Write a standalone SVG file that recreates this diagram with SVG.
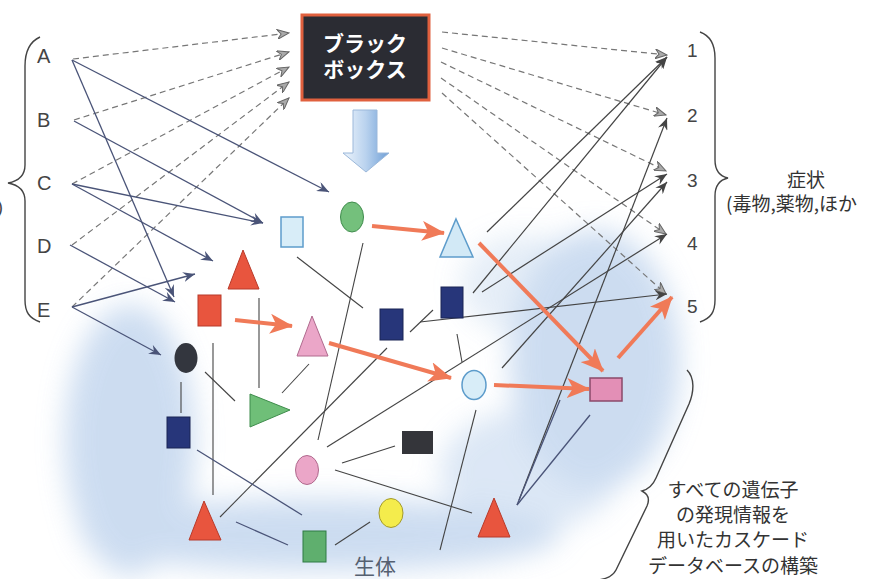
<svg xmlns="http://www.w3.org/2000/svg" width="879" height="579" viewBox="0 0 879 579">
<style>
.lbl{font-family:"Liberation Sans","Noto Sans CJK JP",sans-serif;font-size:20px;fill:#444}
.num{font-family:"Liberation Sans",sans-serif;font-size:19px;fill:#444}
.jp{font-family:"Noto Sans CJK JP",sans-serif;fill:#333}
.dash{stroke:#777;stroke-width:1.2;stroke-dasharray:6 4;fill:none;marker-end:url(#ahd)}
.sol{stroke:#444;stroke-width:1.2;fill:none;marker-end:url(#ah)}
.solb{stroke:#4a5478;stroke-width:1.3;fill:none;marker-end:url(#ahb)}
.ln{stroke:#444;stroke-width:1.1;fill:none}
.lnb{stroke:#4a5478;stroke-width:1.3;fill:none}
.red{stroke:#f07a58;stroke-width:4;fill:none;marker-end:url(#ra)}
.brace{stroke:#444;stroke-width:1.4;fill:none}
</style>
<defs>
<marker id="ah" markerUnits="userSpaceOnUse" markerWidth="13" markerHeight="10" refX="12" refY="5" orient="auto"><path d="M0,0 L12,5 L0,10 L4,5 Z" fill="#444"/></marker>
<marker id="ahb" markerUnits="userSpaceOnUse" markerWidth="13" markerHeight="10" refX="12" refY="5" orient="auto"><path d="M0,0 L12,5 L0,10 L4,5 Z" fill="#4a5478"/></marker>
<marker id="ahd" markerUnits="userSpaceOnUse" markerWidth="13" markerHeight="10" refX="12" refY="5" orient="auto"><path d="M0,0 L12,5 L0,10 L4,5 Z" fill="#aaa" stroke="#666" stroke-width="1"/></marker>
<marker id="ra" markerUnits="userSpaceOnUse" markerWidth="24" markerHeight="20" refX="22" refY="10" orient="auto"><path d="M0,0 L23,10 L0,20 L6,10 Z" fill="#f07a58"/></marker>
<filter id="blur" x="-30%" y="-30%" width="160%" height="160%"><feGaussianBlur stdDeviation="14"/></filter>
<linearGradient id="barrow" x1="0" y1="0" x2="1" y2="0"><stop offset="0" stop-color="#eef5fc"/><stop offset="0.5" stop-color="#b9d2ee"/><stop offset="1" stop-color="#6f9fd6"/></linearGradient>
</defs>

<g id="background" filter="url(#blur)" fill="#bcd1ec" opacity="0.75">
<ellipse cx="130" cy="440" rx="65" ry="135"/>
<ellipse cx="320" cy="535" rx="240" ry="36"/>
<ellipse cx="595" cy="360" rx="85" ry="130"/>
<ellipse cx="525" cy="285" rx="65" ry="50" opacity="0.5"/>
<ellipse cx="530" cy="470" rx="90" ry="60" opacity="0.7"/>
</g>

<g id="connectors">
<path class="dash" d="M73,59 L289,33"/>
<path class="dash" d="M74,120 L289,52"/>
<path class="dash" d="M72,184 L289,67"/>
<path class="dash" d="M72,245 L289,82"/>
<path class="dash" d="M72,307 L289,98"/>
<path class="dash" d="M442,32 L667,55"/>
<path class="dash" d="M442,48 L666,115"/>
<path class="dash" d="M441,62 L666,171"/>
<path class="dash" d="M441,78 L666,234"/>
<path class="dash" d="M442,93 L666,294"/>
<path class="solb" d="M72,60 L329,192"/>
<path class="solb" d="M72,60 L174,297"/>
<path class="solb" d="M74,121 L263,223"/>
<path class="solb" d="M72,184 L263,223"/>
<path class="solb" d="M72,184 L213,261"/>
<path class="solb" d="M70,245 L175,302"/>
<path class="solb" d="M72,307 L195,274"/>
<path class="solb" d="M72,307 L161,355"/>
<path class="sol" d="M487,232 L667,57"/>
<path class="sol" d="M473,293 L667,57"/>
<path class="sol" d="M519,500 L667,118"/>
<path class="sol" d="M482,292 L667,174"/>
<path class="sol" d="M502,368 L667,182"/>
<path class="sol" d="M327,447 L667,234"/>
<path class="sol" d="M420,322 L667,294"/>
<path class="ln" d="M297,257 L363,308"/>
<path class="ln" d="M363,243 L318,440"/>
<path class="ln" d="M387,348 L220,517"/>
<path class="ln" d="M410,332 L433,310"/>
<path class="ln" d="M457,334 L462,362"/>
<path class="ln" d="M476,410 L440,550"/>
<path class="ln" d="M205,372 L235,401"/>
<path class="ln" d="M181,382 L181,413"/>
<path class="ln" d="M213,343 L213,495"/>
<path class="ln" d="M259,298 L259,388"/>
<path class="ln" d="M309,364 L282,393"/>
<path class="lnb" d="M197,450 L302,515"/>
<path class="lnb" d="M236,522 L288,545"/>
<path class="ln" d="M335,545 L370,522"/>
<path class="ln" d="M342,463 L395,446"/>
<path class="ln" d="M335,470 L472,513"/>
<path class="lnb" d="M517,505 L560,400"/>
<path class="lnb" d="M517,505 L590,415"/>
<path class="red" d="M372,226 L444,233"/>
<path class="red" d="M235,320 L292,326"/>
<path class="red" d="M329,343 L451,378"/>
<path class="red" d="M494,385 L589,389"/>
<path class="red" d="M479,243 L603,371"/>
<path class="red" d="M618,358 L672,297"/>
</g>

<g id="black-box">
<rect x="302" y="15" width="127" height="85" fill="#2b2c33" stroke="#e0603e" stroke-width="3"/>
<text x="365" y="51" text-anchor="middle" class="jp" style="fill:#fff;font-size:21px;font-weight:bold">ブラック</text>
<text x="365" y="77" text-anchor="middle" class="jp" style="fill:#fff;font-size:21px;font-weight:bold">ボックス</text>
</g>
<g id="down-arrow">
<polygon points="353,110 377,110 377,153 389,153 366,172 343,153 353,153" fill="url(#barrow)" stroke="#9bb8da" stroke-width="1"/>
</g>

<g id="n-lightblue-square"><rect x="281" y="217" width="22" height="30" fill="#d8edf8" stroke="#5d9ccb" stroke-width="1.5"/></g>
<g id="n-green-circle"><ellipse cx="352" cy="217" rx="11.5" ry="15" fill="#74c07c" stroke="#3f8c4c" stroke-width="1"/></g>
<g id="n-lightblue-triangle"><polygon points="456,219 473,257 440,257" fill="#d2e9f6" stroke="#5d9ccb" stroke-width="1.5"/></g>
<g id="n-red-triangle1"><polygon points="243,250 259,289 228,289" fill="#e8553e" stroke="#b83a2a" stroke-width="1"/></g>
<g id="n-red-square"><rect x="198" y="295" width="23" height="31" fill="#e8553e" stroke="#b83a2a" stroke-width="1"/></g>
<g id="n-pink-triangle"><polygon points="312,316 328,356 297,356" fill="#eba6c8" stroke="#b06a8e" stroke-width="1"/></g>
<g id="n-navy-square1"><rect x="380" y="309" width="23" height="31" fill="#27367a" stroke="#1a2555" stroke-width="1"/></g>
<g id="n-navy-square2"><rect x="441" y="287" width="22" height="31" fill="#27367a" stroke="#1a2555" stroke-width="1"/></g>
<g id="n-black-circle"><ellipse cx="186" cy="358" rx="11.5" ry="15" fill="#33363e"/></g>
<g id="n-green-triangle"><polygon points="250,394 290,410 250,427" fill="#6fbf78" stroke="#3f8c4c" stroke-width="1"/></g>
<g id="n-lightblue-circle"><ellipse cx="474" cy="385" rx="12" ry="14.5" fill="#d8edf8" stroke="#5d9ccb" stroke-width="1.5"/></g>
<g id="n-pink-rect"><rect x="590" y="378" width="32" height="23" fill="#e38fb6" stroke="#8a4a6a" stroke-width="1.5"/></g>
<g id="n-navy-square3"><rect x="167" y="417" width="23" height="31" fill="#27367a" stroke="#1a2555" stroke-width="1"/></g>
<g id="n-dark-rect"><rect x="402" y="431" width="31" height="23" fill="#34353a"/></g>
<g id="n-pink-circle"><ellipse cx="307" cy="470" rx="11.5" ry="14.5" fill="#eba6c8" stroke="#b06a8e" stroke-width="1"/></g>
<g id="n-red-triangle2"><polygon points="204,501 221,540 189,540" fill="#e8553e" stroke="#b83a2a" stroke-width="1"/></g>
<g id="n-green-square"><rect x="303" y="531" width="23" height="31" fill="#5faf6e" stroke="#2f7a45" stroke-width="1"/></g>
<g id="n-yellow-circle"><ellipse cx="391" cy="513" rx="12" ry="14.5" fill="#f4ec4c" stroke="#a39a2c" stroke-width="1"/></g>
<g id="n-red-triangle3"><polygon points="494,498 510,537 478,537" fill="#e8553e" stroke="#b83a2a" stroke-width="1"/></g>

<g id="left-labels">
<text class="lbl" x="37" y="63">A</text>
<text class="lbl" x="37" y="127">B</text>
<text class="lbl" x="37" y="190">C</text>
<text class="lbl" x="37" y="253">D</text>
<text class="lbl" x="37" y="317">E</text>
<text class="lbl" x="-3" y="213" style="font-size:18px">)</text>
<path class="brace" d="M40,37 C29,42 25,52 25,66 L25,165 C25,175 19,181 8,183 C19,185 25,191 25,201 L25,300 C25,312 29,318 40,322"/>
</g>

<g id="right-labels">
<text class="num" x="687" y="57">1</text>
<text class="num" x="687" y="122">2</text>
<text class="num" x="687" y="187">3</text>
<text class="num" x="687" y="250">4</text>
<text class="num" x="687" y="313">5</text>
<path class="brace" d="M700,32 C711,36 715,45 715,58 L715,160 C715,170 719,176 728,178 C719,180 715,186 715,196 L715,300 C715,312 711,318 700,322"/>
<text class="jp" x="806" y="187" text-anchor="middle" style="font-size:19px">症状</text>
<text class="jp" x="726" y="211" style="font-size:19px">(毒物,薬物,ほか</text>
</g>

<g id="body-label">
<text class="jp" x="375" y="574" text-anchor="middle" style="font-size:21px;fill:#556070">生体</text>
</g>

<g id="database-note">
<path class="brace" d="M687,370 C695,378 694,392 689,404 L656,478 C653,485 649,489 642,491 C648,494 650,499 647,506 L616,570 C613,576 606,579 598,580"/>
<text class="jp" x="733" y="497" text-anchor="middle" style="font-size:19px">すべての遺伝子</text>
<text class="jp" x="733" y="522" text-anchor="middle" style="font-size:19px">の発現情報を</text>
<text class="jp" x="733" y="547" text-anchor="middle" style="font-size:19px">用いたカスケード</text>
<text class="jp" x="733" y="573" text-anchor="middle" style="font-size:19px">データベースの構築</text>
</g>
</svg>
